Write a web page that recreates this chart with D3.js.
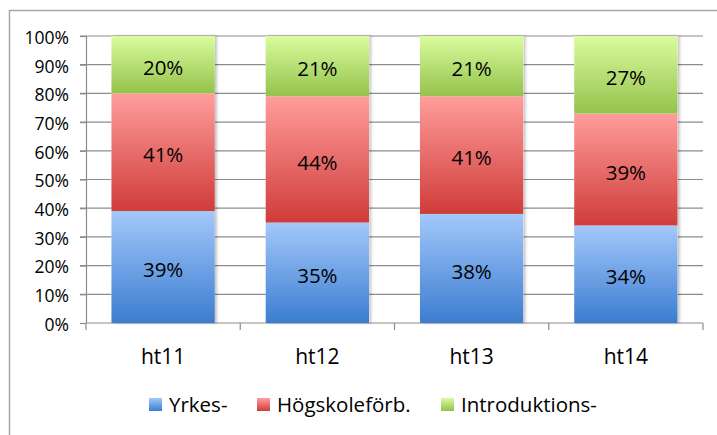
<!DOCTYPE html>
<html>
<head>
<meta charset="utf-8">
<script src="https://cdn.jsdelivr.net/npm/d3@7"></script>
<style>
  body { margin: 0; background: #fff; }
  svg { display: block; font-family: "Open Sans", sans-serif; }
</style>
</head>
<body>
<svg width="717" height="435"></svg>
<script>
// data (percent of each term)
let terms = ["ht11", "ht12", "ht13", "ht14"];
let seriesNames = ["Yrkes-", "Högskoleförb.", "Introduktions-"];
let yrkes = [39, 35, 38, 34];
let hogskole = [41, 44, 41, 39];
let intro = [20, 21, 21, 27];
let yTicks = [0, 10, 20, 30, 40, 50, 60, 70, 80, 90, 100];

let svg = d3.select("svg");

// outer frame (clipped at right/bottom like the original)
svg.append("rect")
    .attr("x", 9.5).attr("y", 10.5)
    .attr("width", 720).attr("height", 440)
    .attr("fill", "none")
    .attr("stroke", "#a6a6a6")
    .attr("stroke-width", 1.5);

let margin = { top: 36, right: 14, bottom: 112, left: 86 },
    width = 717 - margin.left - margin.right,
    height = 435 - margin.top - margin.bottom;

let g = svg.append("g")
    .attr("transform", "translate(" + margin.left + "," + margin.top + ")");

let x = d3.scaleBand()
    .domain(terms)
    .range([0, width])
    .paddingInner(0.33)
    .paddingOuter(0.165);

let xTicks = d3.scaleBand().domain(terms).range([0, width]);

let y = d3.scaleLinear()
    .domain([0, 100])
    .range([height, 0]);

// gradients: lighter top, darker bottom
let colors = [
    { top: "#a3c8fb", bottom: "#3b7dd0" },
    { top: "#ff9d9b", bottom: "#cf3c3a" },
    { top: "#dafc9e", bottom: "#94c24c" }
];
let defs = svg.append("defs");
colors.forEach((c, i) => {
    let lg = defs.append("linearGradient")
        .attr("id", "grad" + i)
        .attr("x1", 0).attr("y1", 0).attr("x2", 0).attr("y2", 1);
    lg.append("stop").attr("offset", "0%").attr("stop-color", c.top);
    lg.append("stop").attr("offset", "100%").attr("stop-color", c.bottom);
});
let sh = defs.append("filter").attr("id", "shadow")
    .attr("x", "-10%").attr("y", "-10%").attr("width", "130%").attr("height", "120%");
sh.append("feDropShadow")
    .attr("dx", 2).attr("dy", 0).attr("stdDeviation", 1.5)
    .attr("flood-color", "#000").attr("flood-opacity", 0.25);

// gridlines
g.append("g")
    .selectAll("line")
    .data(yTicks.slice(1))
    .enter().append("line")
    .attr("x1", -6).attr("x2", width)
    .attr("y1", d => y(d)).attr("y2", d => y(d))
    .attr("stroke", "#8c8c8c")
    .attr("stroke-width", 1.2);

// y axis
let yAxis = g.append("g")
    .call(d3.axisLeft(y).tickValues(yTicks).tickFormat(d => d + "%").tickSize(6).tickPadding(11));
yAxis.selectAll("line").attr("stroke", "#8c8c8c").attr("stroke-width", 1.2);
yAxis.select(".domain").attr("stroke", "#8c8c8c").attr("stroke-width", 1.2).attr("d", "M0.5,0V" + height);
yAxis.selectAll("text").style("font-size", "17.5px").style("font-family", "Open Sans")
    .attr("fill", "#000").attr("dy", "0.42em");

// x axis line and ticks between categories
g.append("line")
    .attr("x1", 0).attr("x2", width)
    .attr("y1", height).attr("y2", height)
    .attr("stroke", "#8c8c8c").attr("stroke-width", 1.2);
g.append("g")
    .selectAll("line")
    .data(terms.concat(["end"]))
    .enter().append("line")
    .attr("x1", (d, i) => i < terms.length ? xTicks(d) : width)
    .attr("x2", (d, i) => i < terms.length ? xTicks(d) : width)
    .attr("y1", height).attr("y2", height + 7)
    .attr("stroke", "#8c8c8c").attr("stroke-width", 1.2);

g.append("g")
    .selectAll("text")
    .data(terms)
    .enter().append("text")
    .attr("x", d => x(d) + x.bandwidth() / 2)
    .attr("y", height + 41)
    .attr("text-anchor", "middle")
    .style("font-size", "21px")
    .text(d => d);

// stacked bars
let table = terms.map((t, i) => ({ term: t, s0: yrkes[i], s1: hogskole[i], s2: intro[i] }));
let stack = d3.stack().keys(["s0", "s1", "s2"]);
let layers = stack(table);

let bars = g.append("g");
terms.forEach((t, i) => {
    bars.append("rect")
        .attr("x", x(t))
        .attr("y", y(100))
        .attr("width", x.bandwidth())
        .attr("height", height)
        .attr("fill", "#fff")
        .attr("filter", "url(#shadow)");
});
layers.forEach((layer, k) => {
    bars.selectAll(".seg" + k)
        .data(layer)
        .enter().append("rect")
        .attr("x", d => x(d.data.term))
        .attr("y", d => y(d[1]))
        .attr("width", x.bandwidth())
        .attr("height", d => y(d[0]) - y(d[1]))
        .attr("fill", "url(#grad" + k + ")");
    bars.selectAll(".lab" + k)
        .data(layer)
        .enter().append("text")
        .attr("x", d => x(d.data.term) + x.bandwidth() / 2)
        .attr("y", d => (y(d[0]) + y(d[1])) / 2)
        .attr("dy", "0.5em")
        .attr("text-anchor", "middle")
        .style("font-size", "20.5px")
        .text(d => (d[1] - d[0]) + "%");
});

// legend
let legendX = [149, 257, 441];
let legend = svg.append("g");
seriesNames.forEach((name, i) => {
    legend.append("rect")
        .attr("x", legendX[i]).attr("y", 398)
        .attr("width", 13).attr("height", 13)
        .attr("fill", "url(#grad" + i + ")");
    legend.append("text")
        .attr("x", legendX[i] + 20).attr("y", 412)
        .style("font-size", "20.5px")
        .text(name);
});
</script>
</body>
</html>
